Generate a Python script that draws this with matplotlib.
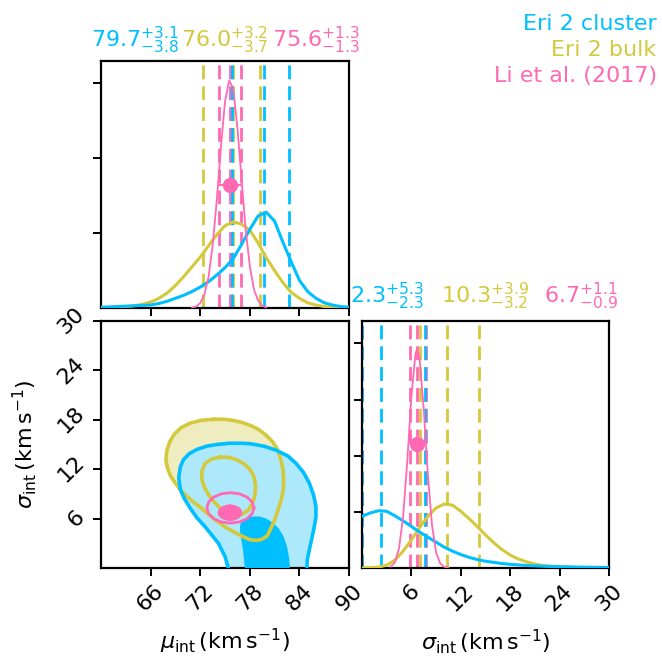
import numpy as np
import matplotlib.pyplot as plt

# ---- data ----
names = ["Eri 2 cluster", "Eri 2 bulk", "Li et al. (2017)"]
colors = ["#00bfff", "#d4c93c", "#ff69b4"]
light_blue = "#aee9fb"
light_yellow = "#efecc0"

# median, +err, -err
mu_stats = [(79.7, 3.1, 3.8), (76.0, 3.2, 3.7), (75.6, 1.3, 1.3)]
sig_stats = [(2.3, 5.3, 2.3), (10.3, 3.9, 3.2), (6.7, 1.1, 0.9)]

# 1D marginals of mu_int
mu_x = list(range(60, 91))
mu_blue = [0.001, 0.0015, 0.002, 0.0025, 0.003, 0.0035, 0.004, 0.006, 0.009, 0.013,
           0.017, 0.022, 0.028, 0.035, 0.044, 0.054, 0.066, 0.085, 0.105, 0.123,
           0.128, 0.116, 0.088, 0.062, 0.037, 0.022, 0.013, 0.007, 0.004, 0.002, 0.001]
mu_yellow = [0.0003, 0.0006, 0.001, 0.002, 0.003, 0.005, 0.008, 0.013, 0.020, 0.030,
             0.042, 0.055, 0.068, 0.083, 0.098, 0.110, 0.115, 0.112, 0.104, 0.087,
             0.067, 0.050, 0.034, 0.021, 0.013, 0.007, 0.004, 0.002, 0.001, 0.0005, 0.0003]
mu_pink_x = [71.0, 71.5, 72.0, 72.5, 73.0, 73.5, 74.0, 74.5, 75.0, 75.5, 76.0,
             76.5, 77.0, 77.5, 78.0, 78.5, 79.0, 79.5, 80.0]
mu_pink = [0.0006, 0.002, 0.0066, 0.018, 0.041, 0.083, 0.144, 0.214, 0.276, 0.304, 0.293,
           0.241, 0.172, 0.105, 0.056, 0.025, 0.010, 0.003, 0.001]

# 1D marginals of sigma_int
sig_x = list(range(0, 31))
sig_blue = [0.092, 0.098, 0.102, 0.101, 0.093, 0.084, 0.074, 0.064, 0.055, 0.046,
            0.037, 0.030, 0.024, 0.019, 0.015, 0.012, 0.010, 0.008, 0.0065, 0.0055,
            0.0045, 0.0038, 0.0032, 0.0027, 0.0023, 0.002, 0.0017, 0.0015, 0.0013, 0.0011, 0.001]
sig_yellow = [0.0002, 0.0005, 0.0015, 0.005, 0.014, 0.030, 0.050, 0.072, 0.092, 0.107,
              0.114, 0.112, 0.101, 0.088, 0.074, 0.059, 0.045, 0.033, 0.023, 0.016,
              0.011, 0.007, 0.0045, 0.003, 0.002, 0.0013, 0.0009, 0.0006, 0.0004, 0.0003, 0.0002]
sig_pink_x = [3.5, 4.0, 4.5, 5.0, 5.5, 6.0, 6.5, 6.7, 7.0, 7.5, 8.0, 8.5, 9.0, 9.5, 10.0, 10.5]
sig_pink = [0.0024, 0.010, 0.035, 0.092, 0.190, 0.305, 0.382, 0.390, 0.373, 0.283,
            0.167, 0.077, 0.028, 0.008, 0.002, 0.0005]

# 2D contours (mu, sigma)
blue_outer_x = [75.4, 75.0, 74.2, 72.6, 71.6, 70.8, 70.1, 69.6, 69.4, 69.6, 70.0, 70.7,
                71.6, 72.8, 74.0, 75.5, 77.0, 78.0, 79.7, 81.2, 82.6, 83.6, 84.5, 85.2,
                85.7, 86.0, 86.0, 85.8, 85.5, 85.2, 84.95, 84.9]
blue_outer_y = [0.0, 1.4, 3.0, 5.0, 6.1, 7.25, 8.4, 9.5, 11.0, 12.3, 13.2, 13.9,
                14.4, 14.8, 15.0, 15.15, 15.15, 15.1, 14.8, 14.3, 13.6, 12.7, 11.6, 10.3,
                8.9, 7.5, 6.2, 5.0, 3.6, 2.2, 1.0, 0.0]
blue_inner_x = [77.4, 77.2, 76.95, 76.8, 76.85, 77.1, 77.6, 78.3, 79.2, 80.0, 80.8,
                81.5, 82.1, 82.5, 82.75, 82.85]
blue_inner_y = [0.0, 2.0, 3.6, 4.6, 5.3, 5.75, 6.1, 6.25, 6.25, 6.0, 5.5,
                4.8, 3.8, 2.6, 1.3, 0.0]
yellow_outer_x = [73.6, 72.2, 70.8, 69.7, 68.9, 68.3, 67.95, 67.85, 68.05, 68.4, 69.0,
                  69.6, 70.4, 71.2, 72.1, 72.9, 73.9, 75.0, 76.2, 77.2, 78.0, 78.8,
                  79.5, 80.1, 80.5, 80.9, 81.4, 81.8, 82.05, 82.1, 82.0, 81.8, 81.3,
                  80.7, 80.0, 79.1, 78.1, 77.0, 75.8, 74.7, 73.6]
yellow_outer_y = [18.05, 17.95, 17.6, 17.05, 16.3, 15.3, 14.2, 13.1, 12.1, 11.2, 10.3,
                  9.5, 8.7, 8.0, 7.3, 6.6, 5.8, 5.0, 4.3, 3.8, 3.45, 3.35,
                  3.5, 3.9, 4.7, 5.6, 7.0, 8.3, 9.5, 10.8, 12.0, 13.0, 14.5,
                  15.4, 16.1, 16.8, 17.3, 17.7, 17.95, 18.08, 18.05]
yellow_inner_x = [74.4, 75.4, 76.4, 77.3, 78.0, 78.5, 78.7, 78.65, 78.35, 77.8, 77.0,
                  76.0, 75.1, 74.4, 73.7, 73.0, 72.5, 72.2, 72.2, 72.6, 73.4, 74.4]
yellow_inner_y = [13.45, 13.45, 13.15, 12.65, 12.0, 11.1, 10.1, 9.0, 7.9, 7.0, 6.5,
                  6.35, 6.6, 7.3, 8.0, 8.9, 9.8, 10.8, 11.8, 12.7, 13.25, 13.45]
pink_ring_x = [78.50, 78.28, 77.67, 76.74, 75.65, 74.56, 73.63, 73.02, 72.80,
               73.02, 73.63, 74.56, 75.65, 76.74, 77.67, 78.28, 78.50]
pink_ring_y = [7.30, 8.01, 8.61, 9.01, 9.15, 9.01, 8.61, 8.01, 7.30,
               6.59, 5.99, 5.59, 5.45, 5.59, 5.99, 6.59, 7.30]
pink_core_x = [77.10, 76.99, 76.66, 76.17, 75.60, 75.03, 74.54, 74.21, 74.10,
               74.21, 74.54, 75.03, 75.60, 76.17, 76.66, 76.99]
pink_core_y = [6.72, 7.10, 7.43, 7.64, 7.72, 7.64, 7.43, 7.10, 6.72,
               6.34, 6.01, 5.80, 5.72, 5.80, 6.01, 6.34]

mu_ticks = [66, 72, 78, 84, 90]
sig_ticks = [6, 12, 18, 24, 30]

FS = 16
plt.rcParams["font.size"] = FS

fig = plt.figure(figsize=(6.62, 6.61), dpi=100)
ax_mu = fig.add_axes([0.1526, 0.5340, 0.3746, 0.3737])
ax_2d = fig.add_axes([0.1526, 0.1407, 0.3746, 0.3737])
ax_sig = fig.add_axes([0.5468, 0.1407, 0.3731, 0.3737])

for ax in (ax_mu, ax_2d, ax_sig):
    for sp in ax.spines.values():
        sp.set_linewidth(1.6)
    ax.tick_params(width=1.4, length=5.5, direction="out", labelsize=FS)

dash = (0, (5, 2.5))


def title_row(ax, stats, xpos, y):
    for (m, hi, lo), c, xp in zip(stats, colors, xpos):
        s = rf"${m:.1f}^{{+{hi:.1f}}}_{{-{lo:.1f}}}$"
        ax.text(xp, y, s, transform=ax.transAxes, ha="center", va="bottom",
                color=c, fontsize=FS)


# ---- mu marginal ----
for (m, hi, lo), c in zip([mu_stats[1], mu_stats[2], mu_stats[0]],
                          [colors[1], colors[2], colors[0]]):
    for v in (m - lo, m, m + hi):
        ax_mu.axvline(v, color=c, ls=dash, lw=2, zorder=2)
ax_mu.plot(mu_x, mu_yellow, color=colors[1], lw=2.2, zorder=3)
ax_mu.plot(mu_x, mu_blue, color=colors[0], lw=2.2, zorder=3)
ax_mu.plot(mu_pink_x, mu_pink, color=colors[2], lw=1.3, zorder=3)
ax_mu.set_xlim(60, 90)
ax_mu.set_ylim(0, 0.33)
ax_mu.errorbar(mu_stats[2][0], 0.5 * 0.33, xerr=[[mu_stats[2][2]], [mu_stats[2][1]]],
               fmt="o", color=colors[2], ms=10, lw=1.5, zorder=4)
ax_mu.set_xticks(mu_ticks)
ax_mu.set_xticklabels([])
ax_mu.set_yticks([0.1, 0.2, 0.3])
ax_mu.set_yticklabels([])
title_row(ax_mu, mu_stats, [0.137, 0.5, 0.867], 1.02)

# ---- sigma marginal ----
for (m, hi, lo), c in zip([sig_stats[1], sig_stats[2], sig_stats[0]],
                          [colors[1], colors[2], colors[0]]):
    for v in (m - lo, m, m + hi):
        ax_sig.axvline(v, color=c, ls=dash, lw=2, zorder=2)
ax_sig.plot(sig_x, sig_yellow, color=colors[1], lw=2.2, zorder=3)
ax_sig.plot(sig_x, sig_blue, color=colors[0], lw=2.2, zorder=3)
ax_sig.plot(sig_pink_x, sig_pink, color=colors[2], lw=1.3, zorder=3)
ax_sig.set_xlim(0, 30)
ax_sig.set_ylim(0, 0.44)
ax_sig.errorbar(sig_stats[2][0], 0.5 * 0.44, xerr=[[sig_stats[2][2]], [sig_stats[2][1]]],
                fmt="o", color=colors[2], ms=10, lw=1.5, zorder=4)
ax_sig.set_xticks(sig_ticks)
ax_sig.set_xticklabels(sig_ticks, rotation=45)
ax_sig.set_yticks([0.1, 0.2, 0.3, 0.4])
ax_sig.set_yticklabels([])
ax_sig.set_xlabel(r"$\sigma_{\rm int}\,({\rm km\,s^{-1}})$", fontsize=FS)
ax_sig.xaxis.set_label_coords(0.5, -0.24)
title_row(ax_sig, sig_stats, [0.101, 0.498, 0.888], 1.035)

# ---- 2D panel ----
ax_2d.fill(yellow_outer_x, yellow_outer_y, color=light_yellow, lw=0, zorder=1)
ax_2d.fill(blue_outer_x, blue_outer_y, color=light_blue, lw=0, zorder=2)
ax_2d.fill(blue_inner_x, blue_inner_y, color=colors[0], lw=0, zorder=3)
ax_2d.plot(yellow_outer_x, yellow_outer_y, color=colors[1], lw=2.6, zorder=4)
ax_2d.plot(yellow_inner_x, yellow_inner_y, color=colors[1], lw=2.6, zorder=4)
ax_2d.plot(blue_outer_x, blue_outer_y, color=colors[0], lw=2.6, zorder=5)
ax_2d.plot(pink_ring_x, pink_ring_y, color=colors[2], lw=2, zorder=6)
ax_2d.fill(pink_core_x, pink_core_y, color=colors[2], lw=0, zorder=6)
ax_2d.errorbar(mu_stats[2][0], sig_stats[2][0],
               xerr=[[mu_stats[2][2]], [mu_stats[2][1]]],
               yerr=[[sig_stats[2][2]], [sig_stats[2][1]]],
               fmt="o", color=colors[2], ms=10, lw=1.5, zorder=7)
ax_2d.set_xlim(60, 90)
ax_2d.set_ylim(0, 30)
ax_2d.set_xticks(mu_ticks)
ax_2d.set_xticklabels(mu_ticks, rotation=45)
ax_2d.set_yticks(sig_ticks)
ax_2d.set_yticklabels(sig_ticks, rotation=45, va="center")
ax_2d.set_xlabel(r"$\mu_{\rm int}\,({\rm km\,s^{-1}})$", fontsize=FS)
ax_2d.xaxis.set_label_coords(0.5, -0.24)
ax_2d.set_ylabel(r"$\sigma_{\rm int}\,({\rm km\,s^{-1}})$", fontsize=FS)
ax_2d.yaxis.set_label_coords(-0.25, 0.5)

# ---- legend text top right ----
for name, c, yb in zip(names, colors, [0.9546, 0.9153, 0.8760]):
    fig.text(0.992, yb, name, color=c, ha="right", va="baseline", fontsize=FS)

fig.savefig("out.png", dpi=100)
